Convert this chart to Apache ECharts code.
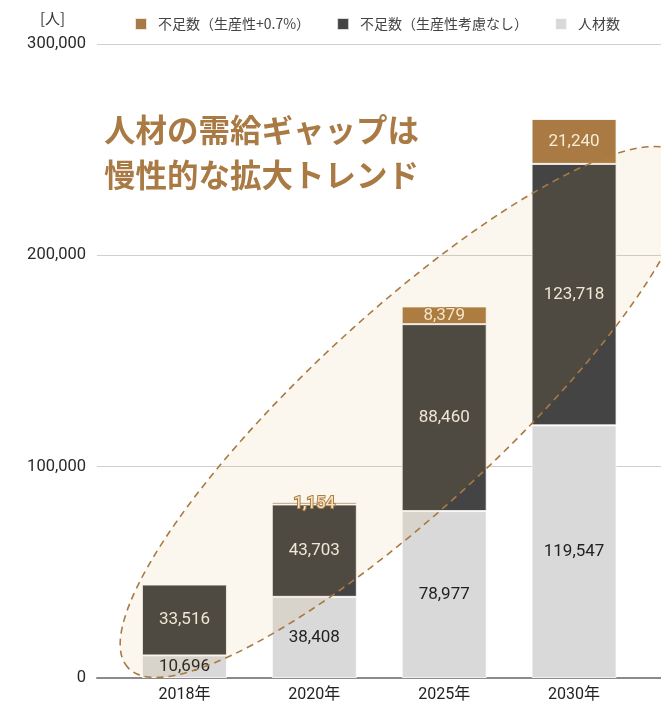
<!DOCTYPE html>
<html lang="ja">
<head>
    <meta charset="UTF-8">
    <title>人材の需給ギャップ</title>
    <script src="https://cdn.jsdelivr.net/npm/echarts@6/dist/echarts.min.js"></script>
    <style>
        html, body { margin: 0; padding: 0; background: #fff; }
    </style>
</head>
<body>
<div id="main" style="width: 661px;height:703px;"></div>
<script type="text/javascript">
    // データ
    var categories = ['2018年', '2020年', '2025年', '2030年'];
    var jinzai = [10696, 38408, 78977, 119547];          // 人材数
    var fusokuNone = [33516, 43703, 88460, 123718];      // 不足数（生産性考慮なし）
    var fusokuPlus = [null, 1154, 8379, 21240];          // 不足数（生産性+0.7%）
    var yMax = 300000;
    var yStep = 100000;

    var numFont = 'Roboto, "Noto Sans CJK JP", sans-serif';
    var jpFont = '"Noto Sans CJK JP", sans-serif';
    var brown = '#a97a43';

    function fmt(v) {
        return v.toLocaleString('en-US');
    }

    var option = {
        animation: false,
        backgroundColor: '#fff',
        legend: {
            left: 129,
            top: 12,
            itemWidth: 12,
            itemHeight: 12,
            itemGap: 26,
            icon: 'rect',
            textStyle: { fontSize: 14, color: '#444', fontFamily: jpFont, padding: [0, 0, 0, 6] },
            data: ['不足数（生産性+0.7%）', '不足数（生産性考慮なし）', '人材数']
        },
        grid: [
            // 棒グラフ用
            { left: 119.5, right: 22, top: 44, bottom: 25 },
            // 目盛り・グリッド線用（横幅いっぱい）
            { left: 97, right: 0, top: 44, bottom: 25 }
        ],
        xAxis: [
            {
                type: 'category',
                gridIndex: 0,
                data: categories,
                axisLine: { show: false },
                axisTick: { show: false },
                axisLabel: { fontSize: 16, color: '#222', fontFamily: numFont, margin: 9 }
            },
            {
                type: 'value',
                gridIndex: 1,
                min: 0,
                max: 1,
                axisLine: { show: true, lineStyle: { color: '#8a8a8a', width: 2 } },
                axisTick: { show: false },
                axisLabel: { show: false },
                splitLine: { show: false }
            }
        ],
        yAxis: [
            {
                type: 'value',
                gridIndex: 0,
                min: 0,
                max: yMax,
                interval: yStep,
                show: false
            },
            {
                type: 'value',
                gridIndex: 1,
                min: 0,
                max: yMax,
                interval: yStep,
                axisLine: { show: false },
                axisTick: { show: false },
                axisLabel: {
                    fontSize: 16.5, color: '#2a2a2a', fontFamily: numFont, margin: 11,
                    formatter: function (v) { return fmt(v); }
                },
                splitLine: { lineStyle: { color: '#d0d0d0', width: 1 } }
            }
        ],
        series: [
            {
                name: '人材数',
                type: 'bar',
                stack: 'total',
                xAxisIndex: 0,
                yAxisIndex: 0,
                barWidth: 85,
                data: jinzai,
                itemStyle: { color: '#d9d9d9', borderColor: 'rgba(255,255,255,0.8)', borderWidth: 1 },
                label: {
                    show: true, position: 'inside', fontSize: 17, color: '#222', fontFamily: numFont,
                    formatter: function (p) { return fmt(p.value); }
                }
            },
            {
                name: '不足数（生産性考慮なし）',
                type: 'bar',
                stack: 'total',
                xAxisIndex: 0,
                yAxisIndex: 0,
                data: fusokuNone,
                itemStyle: { color: '#444444', borderColor: 'rgba(255,255,255,0.8)', borderWidth: 1 },
                label: {
                    show: true, position: 'inside', fontSize: 17, color: '#f2ede2', fontFamily: numFont,
                    formatter: function (p) { return fmt(p.value); }
                }
            },
            {
                name: '不足数（生産性+0.7%）',
                type: 'bar',
                stack: 'total',
                xAxisIndex: 0,
                yAxisIndex: 0,
                data: fusokuPlus,
                itemStyle: { color: brown, borderColor: 'rgba(255,255,255,0.8)', borderWidth: 1 },
                label: {
                    show: true, position: 'inside', fontSize: 17, color: '#f7ecd6', fontFamily: numFont,
                    textBorderColor: brown, textBorderWidth: 2,
                    formatter: function (p) { return p.value == null ? '' : fmt(p.value); }
                }
            }
        ],
        graphic: [
            {
                type: 'text',
                left: 40,
                top: 11,
                style: { text: '[人]', fontSize: 15, fill: '#333', fontFamily: jpFont }
            },
            {
                type: 'text',
                left: 104,
                top: 108,
                z: 110,
                style: {
                    text: '人材の需給ギャップは\n慢性的な拡大トレンド',
                    fontSize: 31.5,
                    fontWeight: 'bold',
                    lineHeight: 45,
                    fill: brown,
                    fontFamily: jpFont
                }
            },
            {
                // 楕円の囲み
                type: 'ellipse',
                x: 405,
                y: 412,
                rotation: 42.7 * Math.PI / 180,
                z: 100,
                shape: { cx: 0, cy: 0, rx: 377, ry: 97 },
                style: {
                    fill: 'rgba(215,150,40,0.08)',
                    stroke: '#a97a43',
                    lineWidth: 1.6,
                    lineDash: [7, 5]
                }
            }
        ]
    };

    var myChart = echarts.init(document.getElementById('main'));
    myChart.setOption(option);
</script>
</body>
</html>
